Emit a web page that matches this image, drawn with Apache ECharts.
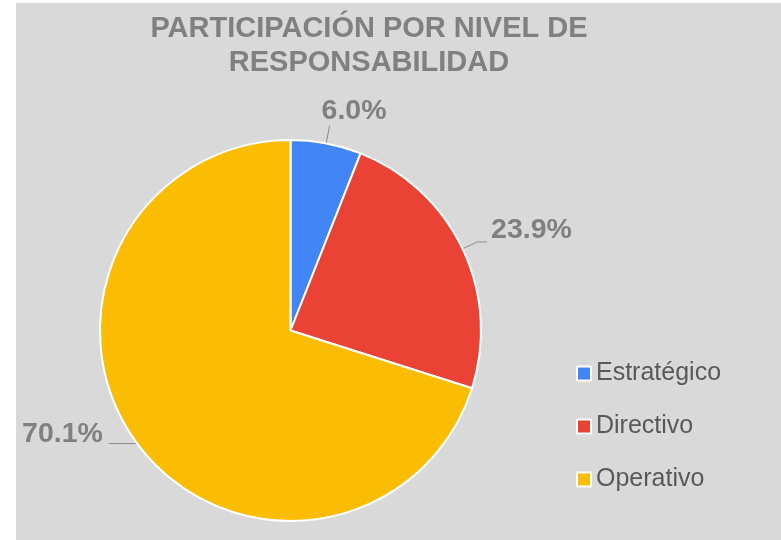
<!DOCTYPE html>
<html>
<head>
<meta charset="utf-8">
<script src="https://cdn.jsdelivr.net/npm/echarts@6/dist/echarts.min.js"></script>
<style>
  html, body { margin: 0; padding: 0; background: #ffffff; }
  #chart { position: absolute; left: 16px; top: 3px; width: 765px; height: 537px; background: #d9d9d9; }
</style>
</head>
<body>
<div id="chart"></div>
<script>
const titleText = 'PARTICIPACIÓN POR NIVEL DE\nRESPONSABILIDAD';
const categories = ['Estratégico', 'Directivo', 'Operativo'];
const values = [6.0, 23.9, 70.1];
const colors = ['#4285f4', '#ea4335', '#fbbc04'];

const chart = echarts.init(document.getElementById('chart'), null, { renderer: 'canvas' });

const lineCfg = [
  { length: 18, length2: 0 },
  { length: 16, length2: 10 },
  { length: 1, length2: 27 }
];
const labelShift = [
  { dx: -12, dy: -15 },
  { dx: 0, dy: -12 },
  { dx: -2, dy: -9 }
];

chart.setOption({
  backgroundColor: 'transparent',
  animation: false,
  color: colors,
  title: {
    text: titleText,
    left: 353,
    top: 9,
    padding: 0,
    textAlign: 'center',
    textStyle: {
      fontFamily: 'Liberation Sans, Arial, sans-serif',
      fontWeight: 'bold',
      fontSize: 29,
      lineHeight: 34,
      color: '#808080'
    }
  },
  legend: {
    orient: 'vertical',
    left: 560,
    top: 358,
    padding: 0,
    itemGap: 28,
    itemWidth: 14,
    itemHeight: 14,
    icon: 'rect',
    textStyle: {
      fontFamily: 'Liberation Sans, Arial, sans-serif',
      fontSize: 25,
      color: '#595959'
    },
    data: categories
  },
  series: [{
    type: 'pie',
    center: [274.5, 327.5],
    radius: 190.5,
    startAngle: 90,
    clockwise: true,
    avoidLabelOverlap: false,
    itemStyle: { borderColor: '#ffffff', borderWidth: 2 },
    label: {
      show: true,
      position: 'outside',
      formatter: p => p.value.toFixed(1) + '%',
      fontFamily: 'Liberation Sans, Arial, sans-serif',
      fontWeight: 'bold',
      fontSize: 28.5,
      color: '#808080',
      distanceToLabelLine: 4
    },
    labelLine: {
      show: true,
      lineStyle: { color: '#8c8c8c', width: 1 }
    },
    labelLayout: p => labelShift[p.dataIndex],
    emphasis: { disabled: true },
    data: categories.map((name, i) => ({
      name: name,
      value: values[i],
      labelLine: lineCfg[i]
    }))
  }]
});
</script>
</body>
</html>
